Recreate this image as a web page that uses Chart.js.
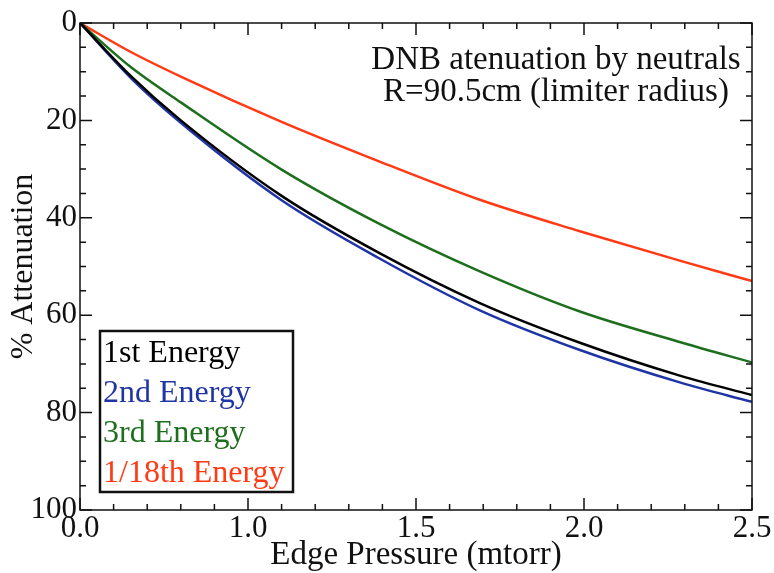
<!DOCTYPE html>
<html>
<head>
<meta charset="utf-8">
<script src="https://cdn.jsdelivr.net/npm/chart.js@4.4.0/dist/chart.umd.min.js"></script>
<style>
  html, body { margin: 0; padding: 0; background: #fff; }
</style>
</head>
<body>
<canvas id="attenChart" width="774" height="573"></canvas>
<script>
// edge pressure samples (axis units) and % attenuation
const pressure     = [0.5, 0.65, 0.80, 1.10, 1.39, 1.69, 1.99, 2.29, 2.5];
const firstEnergy  = [0, 10.8, 20.0, 35.5, 47.2, 57.5, 65.7, 72.5, 76.4];
const secondEnergy = [0, 11.2, 20.5, 36.4, 48.3, 59.0, 67.2, 73.9, 77.8];
const thirdEnergy  = [0,  9.0, 16.3, 30.1, 41.2, 51.0, 59.3, 65.6, 69.7];
const eighteenth   = [0,  5.9, 11.0, 20.3, 28.4, 36.3, 42.8, 48.9, 53.0];

const seriesNames  = ["1st Energy", "2nd Energy", "3rd Energy", "1/18th Energy"];
const seriesColors = ["#000000", "#2035a5", "#1d6e1d", "#ff3a14"];
const xTickLabels  = ["0.0", "1.0", "1.5", "2.0", "2.5"];
const noteLines    = ["DNB atenuation by neutrals", "R=90.5cm (limiter radius)"];

const serif = "'Liberation Serif', 'Times New Roman', serif";

function toPoints(ys) {
  return ys.map((y, i) => ({ x: pressure[i], y: y }));
}

// box + inward ticks on all four sides
const frameTicks = {
  id: "frameTicks",
  afterDatasetsDraw(chart) {
    const { ctx, chartArea: a, scales } = chart;
    ctx.save();
    ctx.strokeStyle = "#111";
    ctx.lineWidth = 1.5;
    ctx.strokeRect(a.left, a.top, a.right - a.left, a.bottom - a.top);
    ctx.beginPath();
    for (let i = 0; i <= 20; i++) {
      const v = 0.5 + i * 0.1;
      const px = scales.x.getPixelForValue(v);
      const len = i % 5 === 0 ? 12 : 6;
      ctx.moveTo(px, a.bottom); ctx.lineTo(px, a.bottom - len);
      ctx.moveTo(px, a.top); ctx.lineTo(px, a.top + len);
    }
    for (let v = 0; v <= 100; v += 5) {
      const py = scales.y.getPixelForValue(v);
      const len = v % 20 === 0 ? 12 : 6;
      ctx.moveTo(a.left, py); ctx.lineTo(a.left + len, py);
      ctx.moveTo(a.right, py); ctx.lineTo(a.right - len, py);
    }
    ctx.stroke();
    ctx.restore();
  }
};

// coloured text legend in a box + note text
const legendNote = {
  id: "legendNote",
  afterDraw(chart) {
    const { ctx, chartArea: a } = chart;
    ctx.save();
    ctx.textBaseline = "alphabetic";

    ctx.font = "33px " + serif;
    ctx.textAlign = "center";
    ctx.fillStyle = "#111";
    const cx = a.right - 196;
    noteLines.forEach((t, i) => ctx.fillText(t, cx, a.top + 46 + i * 32));

    ctx.font = "32px " + serif;
    const bx = a.left + 20, by = a.top + 308, bw = 193, bh = 161;
    ctx.lineWidth = 2.5;
    ctx.strokeStyle = "#111";
    ctx.strokeRect(bx, by, bw, bh);
    ctx.textAlign = "left";
    chart.data.datasets.forEach((ds, i) => {
      ctx.fillStyle = ds.borderColor;
      ctx.fillText(ds.label, bx + 3, by + 31 + i * 40);
    });
    ctx.restore();
  }
};

const ctx = document.getElementById("attenChart");

new Chart(ctx, {
  type: "line",
  data: {
    datasets: [firstEnergy, secondEnergy, thirdEnergy, eighteenth].map((ys, i) => ({
      label: seriesNames[i],
      data: toPoints(ys),
      borderColor: seriesColors[i],
      backgroundColor: seriesColors[i],
      borderWidth: 2.5,
      pointRadius: 0,
      fill: false,
      cubicInterpolationMode: "monotone"
    }))
  },
  options: {
    responsive: false,
    animation: false,
    devicePixelRatio: 1,
    layout: { padding: { top: 23, right: 22, left: 0, bottom: 0 } },
    plugins: {
      legend: { display: false },
      tooltip: { enabled: false }
    },
    scales: {
      x: {
        type: "linear",
        min: 0.5,
        max: 2.5,
        grid: { display: false, drawTicks: false },
        border: { display: false },
        ticks: {
          stepSize: 0.5,
          maxRotation: 0,
          padding: 0,
          color: "#111",
          font: { family: serif, size: 31 },
          callback: (v, i) => xTickLabels[i]
        },
        title: {
          display: true,
          text: "Edge Pressure (mtorr)",
          color: "#111",
          font: { family: serif, size: 33 },
          padding: { top: 0, bottom: -2 }
        },
        afterFit: s => { s.height = 63; }
      },
      y: {
        reverse: true,
        min: 0,
        max: 100,
        grid: { display: false, drawTicks: false },
        border: { display: false },
        ticks: {
          stepSize: 20,
          padding: 3,
          color: "#111",
          font: { family: serif, size: 31 }
        },
        title: {
          display: true,
          text: "% Attenuation",
          color: "#111",
          font: { family: serif, size: 32 },
          padding: { top: 4, bottom: 0 }
        },
        afterFit: s => { s.width = 80; }
      }
    }
  },
  plugins: [frameTicks, legendNote]
});
</script>
</body>
</html>
